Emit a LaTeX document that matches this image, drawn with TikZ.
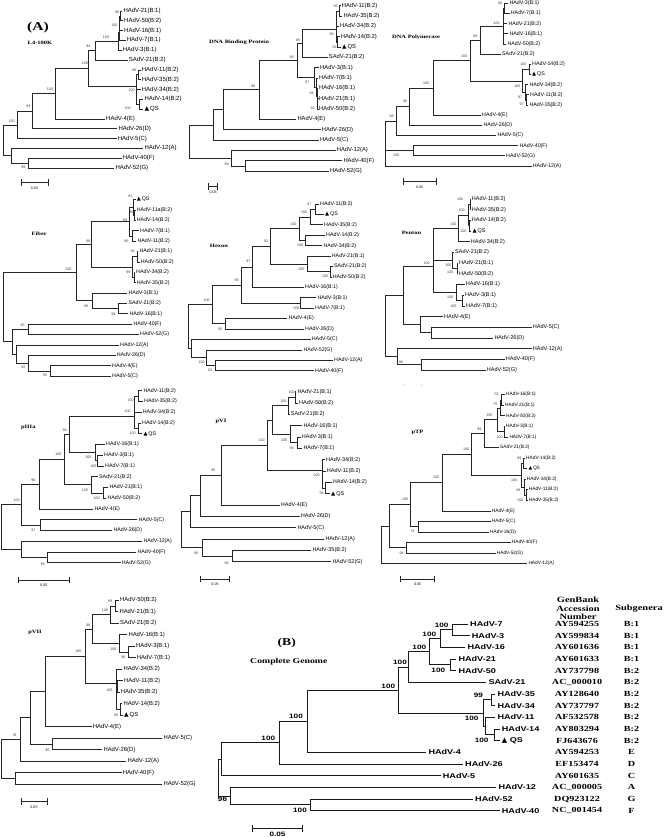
\documentclass[tikz,border=0pt]{standalone}
\usepackage{fontspec}
\setmainfont{Liberation Serif}
\newfontfamily\labsf{Liberation Sans}
\newfontfamily\widesf[FakeStretch=1.3]{Liberation Sans}
\newfontfamily\widerm[FakeStretch=1.3]{Liberation Serif}
\newfontfamily\symf{DejaVu Sans}
\newcommand{\qs}{{\symf ▲}\,QS}
\newcommand{\qsb}{{\symf ▲}\ QS}
\usetikzlibrary{positioning}

\begin{document}
\begin{tikzpicture}[x=1pt, y=-1pt,
  br/.style={line width=0.7pt, draw=black!85},
  brb/.style={line width=0.9pt, draw=black!90},
  leaf/.style={anchor=west, inner xsep=1pt, inner ysep=0pt, font=\fontsize{#1}{#1}\selectfont\labsf},
  leafb/.style={anchor=west, inner xsep=2pt, inner ysep=0pt, font=\fontsize{7}{7}\selectfont\widesf\bfseries},
  bs/.style={inner sep=0pt, font=\fontsize{3.6}{3.6}\selectfont\labsf, text=black!75},
  bsb/.style={inner sep=0pt, font=\fontsize{6.3}{6.3}\selectfont\widesf\bfseries},
  ttl/.style={inner sep=0pt, font=\fontsize{5}{5}\selectfont\widerm\bfseries},
  paneltag/.style={inner sep=0pt, font=\fontsize{#1}{#1}\selectfont\widerm\bfseries},
  sbar/.style={br, |-|},
  scl/.style={inner sep=0pt, font=\fontsize{3.6}{3.6}\selectfont\labsf},
  acc/.style={inner sep=0pt, font=\fontsize{7.8}{7.8}\selectfont\widerm\bfseries},
  hdr/.style={inner sep=0pt, align=center, font=\fontsize{8}{8.2}\selectfont\widerm\bfseries},
]
\fill[white] (0,0) rectangle (664,837);
\useasboundingbox (0,0) rectangle (664,837);

\node[paneltag=12] (tagA) at (38,28) {(A)};
\node[ttl] (t-a) at (40,43) {L4-100K};
\foreach \i/\x/\lab in {1/122.3/HAdV-21(B:1),2/123/HAdV-50(B:2),3/123/HAdV-16(B:1),4/125.7/HAdV-7(B:1),5/121.7/HAdV-3(B:1),6/127.7/SAdV-21(B:2),7/140.7/HAdV-11(B:2),8/140.7/HAdV-35(B:2),9/140.7/HAdV-34(B:2),10/143.3/HAdV-14(B:2),11/143.3/\qs,12/105/HAdV-4(E),13/117.3/HAdV-26(D),14/116.7/HAdV-5(C),15/143.3/HAdV-12(A),16/121.7/HAdV-40(F),17/114.3/HAdV-52(G)}
  \node[leaf=6] (a\i) at (\x,{11+(\i-1)*9.81}) {\lab};
\foreach \n/\x/\y in {0/3.3/140.3,1/120.7/15.9,2/119.5/23.3,3/119/31.9,4/118.3/41,5/95/50.6,6/138.5/74.8,7/139.5/104.2,8/136.5/86,9/88.3/68.3,10/55/93.6,11/32.7/111.2,12/17/124.9,13/28.3/163.1,14/11.7/155.7}
  \coordinate (a-n\n) at (\x,\y);
\foreach \p/\c in {1/a1.west,1/a2.west,2/a-n1,2/a3.west,3/a-n2,3/a4.west,4/a-n3,4/a5.west,5/a-n4,5/a6.west,6/a7.west,6/a8.west,7/a10.west,7/a11.west,8/a-n6,8/a9.west,8/a-n7,9/a-n5,9/a-n8,10/a-n9,10/a12.west,11/a-n10,11/a13.west,12/a-n11,12/a14.west,13/a16.west,13/a17.west,14/a15.west,14/a-n13,0/a-n12,0/a-n14}
  \draw[br] (a-n\p) |- (\c);
\foreach \v/\x/\y [count=\n] in {86/117.3/12.7,100/114.3/25,100/106/37.3,94/88.3/46.7,96/134.3/70.7,100/131.7/90,100/127.7/108.3,100/85/63.3,100/50/89.3,93/28.3/106.7,100/11.7/121.7,99/23.3/167}
  \node[bs] (a-b\n) at (\x,\y) {\v};
\coordinate (a-s1) at (20.7,182.7);
\coordinate (a-s2) at (48.3,182.7);
\draw[sbar] (a-s1) -- (a-s2);
\node[scl] (a-sl) at (34.5,188.5) {0.05};

\node[ttl] (t-b) at (239,42) {DNA Binding Protein};
\foreach \i/\x/\lab in {1/340.7/HAdV-11(B:2),2/342.3/HAdV-35(B:2),3/339/HAdV-34(B:2),4/339.7/HAdV-14(B:2),5/341/\qs,6/327.7/SAdV-21(B:2),7/319/HAdV-3(B:1),8/318/HAdV-7(B:1),9/318/HAdV-16(B:1),10/318/HAdV-21(B:1),11/318/HAdV-50(B:2),12/296.3/HAdV-4(E),13/320.7/HAdV-26(D),14/319/HAdV-5(C),15/335.7/HAdV-12(A),16/342.3/HAdV-40(F),17/329/HAdV-52(G)}
  \node[leaf=5.8] (b\i) at (\x,{5.7+(\i-1)*10.33}) {\lab};
\foreach \n/\x/\y in {0/189.3/141.5,1/339.3/10.9,2/337.3/41.9,3/336/29,4/302.3/43.2,5/317.5/103.9,6/317/96.1,7/316/87.1,8/314/77.4,9/297.3/60.3,10/259.3/89.8,11/223.3/109.8,12/213.3/124.9,13/245/165.9,14/231.7/158.1}
  \coordinate (b-n\n) at (\x,\y);
\foreach \p/\c in {1/b1.west,1/b2.west,2/b4.west,2/b5.west,3/b-n1,3/b3.west,3/b-n2,4/b-n3,4/b6.west,5/b10.west,5/b11.west,6/b9.west,6/b-n5,7/b8.west,7/b-n6,8/b7.west,8/b-n7,9/b-n4,9/b-n8,10/b-n9,10/b12.west,11/b-n10,11/b13.west,12/b-n11,12/b14.west,13/b16.west,13/b17.west,14/b15.west,14/b-n13,0/b-n12,0/b-n14}
  \draw[br] (b-n\p) |- (\c);
\foreach \v/\x/\y [count=\n] in {96/335.7/6.7,99/331.5/34,92/334.5/47.3,85/298/40.3,97/307.3/82,94/311.7/93.3,92/312.7/108.3,99/291.7/57.3,98/253.3/86,99/226.7/164.3}
  \node[bs] (b-b\n) at (\x,\y) {\v};
\coordinate (b-s1) at (208,186.7);
\coordinate (b-s2) at (218,186.7);
\draw[sbar] (b-s1) -- (b-s2);
\node[scl] (b-sl) at (213,192.5) {0.05};

\node[ttl] (t-c) at (416,37) {DNA Polymerase};
\foreach \i/\x/\lab in {1/508.3/HAdV-3(B:1),2/509.7/HAdV-7(B:1),3/507.3/HAdV-21(B:2),4/508.3/HAdV-16(B:1),5/506.3/HAdV-50(B:2),6/501/SAdV-21(B:2),7/531/HAdV-14(B:2),8/531/\qs,9/528.3/HAdV-34(B:2),10/529/HAdV-11(B:2),11/528.3/HAdV-35(B:2),12/481/HAdV-4(E),13/482.3/HAdV-26(D),14/496.3/HAdV-5(C),15/518.3/HAdV-40(F),16/505/HAdV-52(G),17/531.7/HAdV-12(A)}
  \node[leaf=5.3] (c\i) at (\x,{3.3+(\i-1)*10.17}) {\lab};
\foreach \n/\x/\y in {0/385.7/143.5,1/504/8.4,2/503/26.2,3/480/40.2,4/529.3/69.4,5/526/99.9,6/525/92.3,7/522.7/80.9,8/470/60.6,9/433.3/87.9,10/409.3/106.6,11/396.7/121.1,12/413.3/150.8}
  \coordinate (c-n\n) at (\x,\y);
\foreach \p/\c in {1/c1.west,1/c2.west,2/c-n1,2/c3.west,2/c4.west,2/c5.west,3/c-n2,3/c6.west,4/c7.west,4/c8.west,5/c10.west,5/c11.west,6/c9.west,6/c-n5,7/c-n4,7/c-n6,8/c-n3,8/c-n7,9/c-n8,9/c12.west,10/c-n9,10/c13.west,11/c-n10,11/c14.west,12/c15.west,12/c16.west,0/c-n11,0/c-n12,0/c17.west}
  \draw[br] (c-n\p) |- (\c);
\foreach \v/\x/\y [count=\n] in {86/500/3.3,100/496.7/23.3,99/475/36.7,100/523.3/64,100/517.3/86,97/520/97.3,97/521.7/104.7,100/464/56.7,100/426/83.3,98/405/101.7,98/391.7/116.7,100/396/155}
  \node[bs] (c-b\n) at (\x,\y) {\v};
\coordinate (c-s1) at (402.7,181.7);
\coordinate (c-s2) at (436.7,181.7);
\draw[sbar] (c-s1) -- (c-s2);
\node[scl] (c-sl) at (419.7,187.5) {0.05};

\node[ttl] (t-d) at (39.3,233.3) {Fiber};
\foreach \i/\x/\lab in {1/135.7/\qs,2/135.7/HAdV-11a(B:2),3/135.7/HAdV-14(B:2),4/139/HAdV-7(B:1),5/136.3/HAdV-11(B:2),6/138.3/HAdV-21(B:1),7/139.7/HAdV-50(B:2),8/135/HAdV-34(B:2),9/135.7/HAdV-35(B:2),10/127.3/HAdV-3(B:1),11/127.3/SAdV-21(B:2),12/128.3/HAdV-16(B:1),13/132.3/HAdV-40(F),14/139/HAdV-52(G),15/119/HAdV-12(A),16/115.7/HAdV-26(D),17/111/HAdV-4(E),18/111/HAdV-5(C)}
  \node[leaf=5.3] (d\i) at (\x,{199.6+(\i-1)*10.38}) {\lab};
\foreach \n/\x/\y in {0/3.3/307.2,1/134.5/215.2,2/133.5/207.4,3/132.3/235.9,4/129/221.7,5/137/256.7,6/134/277.5,7/132.8/267.1,8/91.7/244.4,9/118.3/308.6,10/92/300.8,11/76/272.6,12/28.3/329.4,13/50/370.9,14/28.3/363.1,15/16.7/354,16/12.7/341.7}
  \coordinate (d-n\n) at (\x,\y);
\foreach \p/\c in {1/d2.west,1/d3.west,2/d1.west,2/d-n1,3/d4.west,3/d5.west,4/d-n2,4/d-n3,5/d6.west,5/d7.west,6/d8.west,6/d9.west,7/d-n5,7/d-n6,8/d-n4,8/d-n7,9/d11.west,9/d12.west,10/d10.west,10/d-n9,11/d-n8,11/d-n10,12/d13.west,12/d14.west,13/d17.west,13/d18.west,14/d16.west,14/d-n13,15/d15.west,15/d-n14,16/d-n12,16/d-n15,0/d-n11,0/d-n16}
  \draw[br] (d-n\p) |- (\c);
\foreach \v/\x/\y [count=\n] in {85/130.5/196.7,95/131.3/212,99/125/220.7,96/126/241.7,99/132.7/251.7,99/128.3/272.7,99/88.3/241.7,99/113.3/314,98/86/306,100/68.3/269,95/22.7/325.3,95/45/375,92/23.3/367.3}
  \node[bs] (d-b\n) at (\x,\y) {\v};

\node[ttl] (t-e) at (219,246) {Hexon};
\foreach \i/\x/\lab in {1/319/HAdV-11(B:2),2/324/\qs,3/323/HAdV-35(B:2),4/325/HAdV-14(B:2),5/322.3/HAdV-34(B:2),6/330.7/HAdV-21(B:1),7/333/SAdV-21(B:2),8/331.7/HAdV-50(B:2),9/304/HAdV-16(B:1),10/316.3/HAdV-3(B:1),11/314/HAdV-7(B:1),12/287.3/HAdV-4(E),13/304/HAdV-26(D),14/310.7/HAdV-5(C),15/302.3/HAdV-52(G),16/333/HAdV-12(A),17/314/HAdV-40(F)}
  \node[leaf=5.3] (e\i) at (\x,{204+(\i-1)*10.42}) {\lab};
\foreach \n/\x/\y in {0/188.3/326.5,1/315.7/209.2,2/310.7/217,3/305.7/240.5,4/299.3/228.8,5/330/271.7,6/307.3/263.9,7/270.7/246.4,8/252.3/266.9,9/300/303,10/241.7/285,11/225/323.8,12/212.3/304.4,13/215/365.5,14/206.7/357.7,15/191.7/348.6}
  \coordinate (e-n\n) at (\x,\y);
\foreach \p/\c in {1/e1.west,1/e2.west,2/e-n1,2/e3.west,3/e4.west,3/e5.west,4/e-n2,4/e-n3,5/e7.west,5/e8.west,6/e6.west,6/e-n5,7/e-n4,7/e-n6,8/e-n7,8/e9.west,9/e10.west,9/e11.west,10/e-n8,10/e-n9,11/e12.west,11/e13.west,12/e-n10,12/e-n11,13/e16.west,13/e17.west,14/e15.west,14/e-n13,15/e14.west,15/e-n14,0/e-n12,0/e-n15}
  \draw[br] (e-n\p) |- (\c);
\foreach \v/\x/\y [count=\n] in {97/309.3/204.3,100/304/212.3,100/300/245,100/293.3/224,100/325/276,100/301/269.3,93/266/241.7,97/248.3/261.7,100/296/308.3,99/236.7/280,95/220/329.3,100/206.7/300,100/201.7/362.7,83/210/370}
  \node[bs] (e-b\n) at (\x,\y) {\v};

\node[ttl] (t-f) at (411.5,233.3) {Penton};
\foreach \i/\x/\lab in {1/470.7/HAdV-11(B:2),2/470.7/HAdV-35(B:2),3/470.7/HAdV-14(B:2),4/471.3/\qs,5/469.7/HAdV-34(B:2),6/454/SAdV-21(B:2),7/458/HAdV-21(B:1),8/458/HAdV-50(B:2),9/464.7/HAdV-16(B:1),10/464/HAdV-3(B:1),11/465/HAdV-7(B:1),12/443/HAdV-4(E),13/531.7/HAdV-5(C),14/493.3/HAdV-26(D),15/531.7/HAdV-12(A),16/504.7/HAdV-40(F),17/485.7/HAdV-52(G)}
  \node[leaf=5.5] (f\i) at (\x,{199+(\i-1)*10.69}) {\lab};
\foreach \n/\x/\y in {0/385.7/326.2,1/470/204.4,2/469.3/225.8,3/468/215.1,4/458.3/228.5,5/457/268.5,6/452/260.5,7/462/300.6,8/456/292.6,9/433.3/266.7,10/431.7/332.7,11/420/324.6,12/403.3/295.7,13/421/364.7,14/397.7/356.7}
  \coordinate (f-n\n) at (\x,\y);
\foreach \p/\c in {1/f1.west,1/f2.west,2/f3.west,2/f4.west,3/f-n1,3/f-n2,4/f-n3,4/f5.west,5/f7.west,5/f8.west,6/f6.west,6/f-n5,7/f10.west,7/f11.west,8/f9.west,8/f-n7,9/f-n4,9/f-n6,9/f-n8,10/f13.west,10/f14.west,11/f12.west,11/f-n10,12/f-n9,12/f-n11,13/f16.west,13/f17.west,14/f15.west,14/f-n13,0/f-n12,0/f-n14}
  \draw[br] (f-n\p) |- (\c);
\foreach \v/\x/\y [count=\n] in {100/460/199,100/461.7/210,100/463.3/231,100/453.3/224,100/448.3/265,100/450/272.7,100/450/297.3,100/453.3/306,100/426.7/263.3,86/401/362.5}
  \node[bs] (f-b\n) at (\x,\y) {\v};
\coordinate (f-s1) at (403.5,385);
\coordinate (f-s2) at (421.5,385);
\fill[black!60] (f-s1) circle (0.45);
\fill[black!60] (f-s2) circle (0.45);

\node[ttl] (t-g) at (28.3,427.3) {pIIIa};
\foreach \i/\x/\lab in {1/142.3/HAdV-11(B:2),2/143/HAdV-35(B:2),3/141.7/HAdV-34(B:2),4/141/HAdV-14(B:2),5/142.3/\qs,6/105/HAdV-16(B:1),7/103/HAdV-3(B:1),8/104/HAdV-7(B:1),9/98/SAdV-21(B:2),10/108.3/HAdV-21(B:1),11/106.3/HAdV-50(B:2),12/93.3/HAdV-4(E),13/137.3/HAdV-5(C),14/112.3/HAdV-26(D),15/142.3/HAdV-12(A),16/136.3/HAdV-40(F),17/120.7/HAdV-52(G)}
  \node[leaf=5.3] (g\i) at (\x,{390.7+(\i-1)*10.75}) {\lab};
\foreach \n/\x/\y in {0/1.3/527,1/138.7/396.1,2/138/428.4,3/134/416,4/97/460.6,5/95/452.5,6/69.3/434.3,7/103/492.9,8/91/484.8,9/64/459.6,10/39/484.3,11/40/525.1,12/21.7/504.7,13/47.3/557.4,14/21/549.3}
  \coordinate (g-n\n) at (\x,\y);
\foreach \p/\c in {1/g1.west,1/g2.west,2/g4.west,2/g5.west,3/g-n1,3/g3.west,3/g-n2,4/g7.west,4/g8.west,5/g6.west,5/g-n4,6/g-n3,6/g-n5,7/g10.west,7/g11.west,8/g9.west,8/g-n7,9/g-n6,9/g-n8,10/g-n9,10/g12.west,11/g13.west,11/g14.west,12/g-n10,12/g-n11,13/g16.west,13/g17.west,14/g15.west,14/g-n13,0/g-n12,0/g-n14}
  \draw[br] (g-n\p) |- (\c);
\foreach \v/\x/\y [count=\n] in {100/130.5/400,100/132.7/433.3,100/127.7/411.5,100/93.3/466,100/88.3/457.3,92/65/430,100/96.7/498.3,100/85/490,100/58.3/454.3,96/33.3/480,97/33.3/530.7,100/16.7/500,99/42.7/564}
  \node[bs] (g-b\n) at (\x,\y) {\v};
\coordinate (g-s1) at (18.3,580);
\coordinate (g-s2) at (69.3,580);
\draw[sbar] (g-s1) -- (g-s2);
\node[scl] (g-sl) at (43.8,585.5) {0.05};

\node[ttl] (t-h) at (221,421) {pVI};
\foreach \i/\x/\lab in {1/296.3/HAdV-21(B:1),2/298/HAdV-50(B:2),3/289.7/SAdV-21(B:2),4/302.3/HAdV-16(B:1),5/300.7/HAdV-3(B:1),6/302.3/HAdV-7(B:1),7/325/HAdV-34(B:2),8/325.7/HAdV-11(B:2),9/331.7/HAdV-14(B:2),10/330/\qs,11/279.7/HAdV-4(E),12/299.7/HAdV-26(D),13/296.3/HAdV-5(C),14/324.3/HAdV-12(A),15/311.3/HAdV-35(B:2),16/331.3/HAdV-52(G)}
  \node[leaf=5.5] (h\i) at (\x,{391.7+(\i-1)*11.33}) {\lab};
\foreach \n/\x/\y in {0/181.7/529.6,1/295/397.3,2/288.5/405.8,3/297.3/442.7,4/290/434.2,5/272.3/420,6/325/488,7/322/470,8/267.7/445,9/221/475,10/200/495.7,11/190/511.7,12/232.3/556,13/202.3/547.5}
  \coordinate (h-n\n) at (\x,\y);
\foreach \p/\c in {1/h1.west,1/h2.west,2/h-n1,2/h3.west,3/h5.west,3/h6.west,4/h4.west,4/h-n3,5/h-n2,5/h-n4,6/h9.west,6/h10.west,7/h7.west,7/h8.west,7/h-n6,8/h-n5,8/h-n7,9/h-n8,9/h11.west,10/h-n9,10/h12.west,11/h-n10,11/h13.west,12/h15.west,12/h16.west,13/h14.west,13/h-n12,0/h-n11,0/h-n13}
  \draw[br] (h-n\p) |- (\c);
\foreach \v/\x/\y [count=\n] in {100/291.7/392.7,100/283.3/401,99/291.7/448.3,100/284/440,98/321.7/493.3,100/316.7/475,100/261.7/440.7,95/213.3/470.7,98/226.7/563.3,96/196/553.3}
  \node[bs] (h-b\n) at (\x,\y) {\v};
\coordinate (h-s1) at (200,579);
\coordinate (h-s2) at (230,579);
\draw[sbar] (h-s1) -- (h-s2);
\node[scl] (h-sl) at (215,584.5) {0.05};

\node[ttl] (t-i) at (417.5,432.3) {pTP};
\foreach \i/\x/\lab in {1/505/HAdV-16(B:1),2/504/HAdV-21(B:1),3/505/HAdV-50(B:2),4/505/HAdV-3(B:1),5/508.3/HAdV-7(B:1),6/499/SAdV-21(B:2),7/525/HAdV-14(B:2),8/527.3/\qs,9/525.7/HAdV-34(B:2),10/527.7/HAdV-11(B:2),11/527.7/HAdV-35(B:2),12/490.7/HAdV-4(E),13/490.7/HAdV-5(C),14/489/HAdV-26(D),15/510.7/HAdV-40(F),16/495.7/HAdV-52(G),17/527.3/HAdV-12(A)}
  \node[leaf=4.8] (i\i) at (\x,{394.7+(\i-1)*10.56}) {\lab};
\foreach \n/\x/\y in {0/381/545,1/501.7/400,2/500/407.9,3/504.3/431.7,4/497.7/419.8,5/484/433.7,6/523.3/463.4,7/526.7/495,8/524/487.1,9/521.7/475.3,10/471.7/454.5,11/442.7/482.7,12/418.3/526.7,13/410.7/504.7,14/406/547.8,15/389/526.3}
  \coordinate (i-n\n) at (\x,\y);
\foreach \p/\c in {1/i1.west,1/i2.west,2/i-n1,2/i3.west,3/i4.west,3/i5.west,4/i-n2,4/i-n3,5/i-n4,5/i6.west,6/i7.west,6/i8.west,7/i10.west,7/i11.west,8/i9.west,8/i-n7,9/i-n6,9/i-n8,10/i-n5,10/i-n9,11/i-n10,11/i12.west,12/i13.west,12/i14.west,13/i-n11,13/i-n12,14/i15.west,14/i16.west,15/i-n13,15/i-n14,0/i-n15,0/i17.west}
  \draw[br] (i-n\p) |- (\c);
\foreach \v/\x/\y [count=\n] in {59/496.7/394.7,79/495/404,100/499.5/437.5,100/489.3/415,99/479.3/429.3,99/519.3/458.3,100/520/500,99/518.3/490,100/514/480,100/466/449.3,100/436/477.3,74/412.7/531.7,100/405/499.3,98/401.7/553.3}
  \node[bs] (i-b\n) at (\x,\y) {\v};
\coordinate (i-s1) at (400,579);
\coordinate (i-s2) at (435,579);
\draw[sbar] (i-s1) -- (i-s2);
\node[scl] (i-sl) at (417.5,584.5) {0.05};

\node[ttl] (t-j) at (35,632.7) {pVII};
\foreach \i/\x/\lab in {1/119/HAdV-50(B:2),2/118.3/HAdV-21(B:1),3/119/SAdV-21(B:2),4/127.3/HAdV-16(B:1),5/135/HAdV-3(B:1),6/135.7/HAdV-7(B:1),7/122.3/HAdV-34(B:2),8/123/HAdV-11(B:2),9/119.7/HAdV-35(B:2),10/122.3/HAdV-14(B:2),11/123/\qs,12/91.7/HAdV-4(E),13/162.3/HAdV-5(C),14/102.3/HAdV-26(D),15/126.3/HAdV-12(A),16/121.7/HAdV-40(F),17/162.3/HAdV-52(G)}
  \node[leaf=5.9] (j\i) at (\x,{600.3+(\i-1)*11.5}) {\lab};
\foreach \n/\x/\y in {0/1.7/759.1,1/115/606.1,2/110.7/614.7,3/128.3/652.1,4/119.3/643.4,5/92.7/629.1,6/117.5/686.6,7/120.7/709.6,8/116.7/683.3,9/85/656.2,10/45/691.5,11/52.3/744.1,12/30/717.8,13/20.7/739.6,14/15.7/778.6}
  \coordinate (j-n\n) at (\x,\y);
\foreach \p/\c in {1/j1.west,1/j2.west,2/j-n1,2/j3.west,3/j5.west,3/j6.west,4/j4.west,4/j-n3,5/j-n2,5/j-n4,6/j8.west,6/j9.west,7/j10.west,7/j11.west,8/j7.west,8/j-n6,8/j-n7,9/j-n5,9/j-n8,10/j-n9,10/j12.west,11/j13.west,11/j14.west,12/j-n10,12/j-n11,13/j-n12,13/j15.west,14/j16.west,14/j17.west,0/j-n13,0/j-n14}
  \draw[br] (j-n\p) |- (\c);
\foreach \v/\x/\y [count=\n] in {99/110/601,100/105/610,98/123.3/657.3,100/113.3/649.3,98/88.3/625,100/109.3/690,96/116/715,100/78.3/651.7,95/47.3/750,91/15/735}
  \node[bs] (j-b\n) at (\x,\y) {\v};
\coordinate (j-s1) at (20.7,801.7);
\coordinate (j-s2) at (47.3,801.7);
\draw[sbar] (j-s1) -- (j-s2);
\node[scl] (j-sl) at (34,807.3) {0.05};

\node[paneltag=10.5] (tagB) at (286.7,643.3) {(B)};
\node[paneltag=7.5] (t-k) at (288.8,661.7) {Complete Genome};
\foreach \i/\x/\lab in {1/468/HAdV-7,2/469.7/HAdV-3,3/465.3/HAdV-16,4/456.3/HAdV-21,5/456.3/HAdV-50,6/486.3/SAdV-21,7/495.3/HAdV-35,8/495.3/HAdV-34,9/495.3/HAdV-11,10/499.7/HAdV-14,11/499.7/\qsb,12/426.3/HAdV-4,13/463/HAdV-26,14/440.7/HAdV-5,15/496.3/HAdV-12,16/473/HAdV-52,17/499.7/HAdV-40}
  \node[leafb] (k\i) at (\x,{624+(\i-1)*11.67}) {\lab};
\foreach \n/\x/\y in {0/218.3/777.6,1/452.3/629.9,2/440/638.6,3/450.7/664.9,4/429/651.7,5/408.3/667,6/491.7/699.9,7/494/734.9,8/485.7/726.1,9/483.3/713,10/398.3/690,11/307.3/721.2,12/279.3/742.6,13/221.7/759.1,14/310/804.9,15/230/796.1}
  \coordinate (k-n\n) at (\x,\y);
\foreach \p/\c in {1/k1.west,1/k2.west,2/k-n1,2/k3.west,3/k4.west,3/k5.west,4/k-n2,4/k-n3,5/k-n4,5/k6.west,6/k7.west,6/k8.west,7/k10.west,7/k11.west,8/k9.west,8/k-n7,9/k-n6,9/k-n8,10/k-n5,10/k-n9,11/k-n10,11/k12.west,12/k-n11,12/k13.west,13/k-n12,13/k14.west,14/k16.west,14/k17.west,15/k15.west,15/k-n14,0/k-n13,0/k-n15}
  \draw[brb] (k-n\p) |- (\c);
\foreach \v/\x/\y [count=\n] in {100/441.7/625,100/429.3/634.3,100/438.3/670,100/419.3/647.7,100/400/662.7,99/478.3/695,100/481.7/740,100/471.7/718.3,100/388.3/686,100/296/716.7,100/268.3/738.3,100/300/810.7,96/222.5/799}
  \node[bsb] (k-b\n) at (\x,\y) {\v};
\coordinate (k-s1) at (251.7,828.3);
\coordinate (k-s2) at (303.3,828.3);
\draw[brb, |-|] (k-s1) -- (k-s2);
\node[bsb] (k-sl) at (277.5,834) {0.05};

\node[hdr] (hdr1) at (578,608.3) {GenBank\\Accession\\Number};
\node[hdr] (hdr2) at (639,608.3) {Subgenera};
\foreach \i/\acc/\sg in {1/AY594255/B:1,2/AY599834/B:1,3/AY601636/B:1,4/AY601633/B:1,5/AY737798/B:2,6/AC\_000010/B:2,7/AY128640/B:2,8/AY737797/B:2,9/AF532578/B:2,10/AY803294/B:2,11/FJ643676/B:2,12/AY594253/E,13/EF153474/D,14/AY601635/C,15/AC\_000005/A,16/DQ923122/G,17/NC\_001454/F}
{
  \node[acc] (acc\i) at (577,{624+(\i-1)*11.67}) {\acc};
  \node[acc] (sg\i) at (631.5,{624+(\i-1)*11.67}) {\sg};
}
\end{tikzpicture}
\end{document}
